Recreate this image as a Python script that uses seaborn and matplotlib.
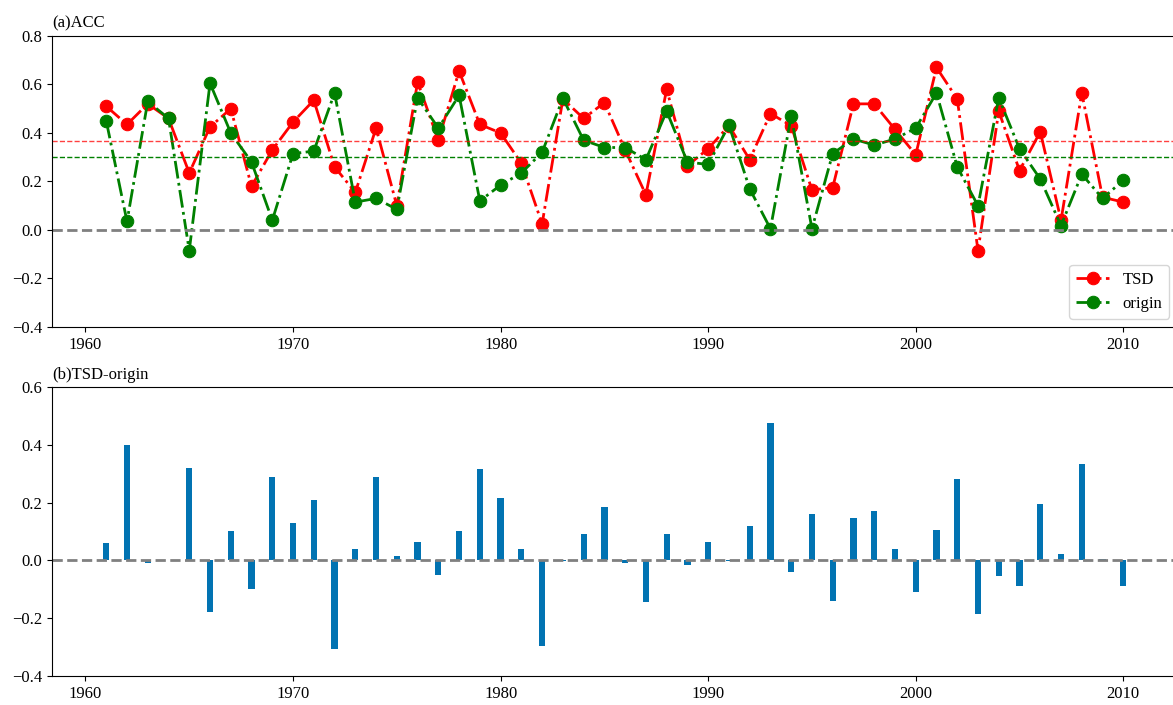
import numpy as np
import pandas as pd
import matplotlib
matplotlib.use("Agg")
import matplotlib.pyplot as plt
import seaborn as sns

# Yearly anomaly correlation coefficients
years = list(range(1961, 2011))
tsd = [0.51, 0.435, 0.52, 0.46, 0.235, 0.425, 0.50, 0.18, 0.33, 0.445,
       0.535, 0.26, 0.155, 0.42, 0.10, 0.61, 0.37, 0.655, 0.435, 0.40,
       0.275, 0.025, 0.54, 0.46, 0.525, 0.33, 0.145, 0.58, 0.265, 0.335,
       0.43, 0.29, 0.48, 0.43, 0.165, 0.175, 0.52, 0.52, 0.415, 0.31,
       0.67, 0.54, -0.085, 0.49, 0.245, 0.405, 0.04, 0.565, 0.135, 0.115]
origin = [0.45, 0.035, 0.53, 0.46, -0.085, 0.605, 0.40, 0.28, 0.04, 0.315,
          0.325, 0.565, 0.115, 0.13, 0.085, 0.545, 0.42, 0.555, 0.12, 0.185,
          0.235, 0.32, 0.543, 0.37, 0.34, 0.34, 0.29, 0.49, 0.28, 0.27,
          0.432, 0.17, 0.005, 0.47, 0.005, 0.315, 0.375, 0.35, 0.375, 0.42,
          0.565, 0.26, 0.10, 0.545, 0.335, 0.21, 0.018, 0.23, 0.13, 0.205]

df = pd.DataFrame({"year": years, "TSD": tsd, "origin": origin})
df["diff"] = df["TSD"] - df["origin"]

sns.set_style("ticks", rc={
    "axes.edgecolor": "black", "xtick.color": "black", "ytick.color": "black",
    "text.color": "black", "axes.labelcolor": "black",
})
plt.rcParams["font.family"] = ["Liberation Serif", "DejaVu Serif"]
plt.rcParams["font.size"] = 12

fig = plt.figure(figsize=(11.73, 7.05), dpi=100)
ax1 = fig.add_axes([0.0443, 0.5362, 0.9596, 0.4128])
ax2 = fig.add_axes([0.0443, 0.0411, 0.9596, 0.4100], sharex=ax1)

# (a) ACC time series
sns.lineplot(data=df, x="year", y="TSD", ax=ax1, color="red", linestyle="-.",
             linewidth=2, marker="o", markersize=9, markeredgecolor="red",
             label="TSD")
sns.lineplot(data=df, x="year", y="origin", ax=ax1, color="green", linestyle="-.",
             linewidth=2, marker="o", markersize=9, markeredgecolor="green",
             label="origin")
ax1.axhline(df["TSD"].mean(), color="red", linestyle="--", linewidth=1, alpha=0.75)
ax1.axhline(df["origin"].mean(), color="green", linestyle="--", linewidth=1)
ax1.axhline(0, color="gray", linestyle="--", linewidth=2)
ax1.set_ylim(-0.4, 0.8)
ax1.set_yticks(np.arange(-0.4, 0.81, 0.2))
ax1.set_title("(a)ACC", loc="left", fontsize=12)
ax1.set_xlabel("")
ax1.set_ylabel("")
ax1.tick_params(labelbottom=True, labelsize=12)
ax1.legend(loc="lower right", fontsize=12)

# (b) TSD minus origin
sns.barplot(data=df, x="year", y="diff", ax=ax2, native_scale=True,
            color="#0173b2", saturation=1, width=0.3, linewidth=0)
ax2.axhline(0, color="gray", linestyle="--", linewidth=2)
ax2.set_ylim(-0.4, 0.6)
ax2.set_yticks(np.arange(-0.4, 0.61, 0.2))
ax2.set_title("(b)TSD-origin", loc="left", fontsize=12)
ax2.set_xlabel("")
ax2.set_ylabel("")
ax2.tick_params(labelsize=12)
ax2.set_xticks(range(1960, 2011, 10))

fig.savefig("out.png", dpi=100)
